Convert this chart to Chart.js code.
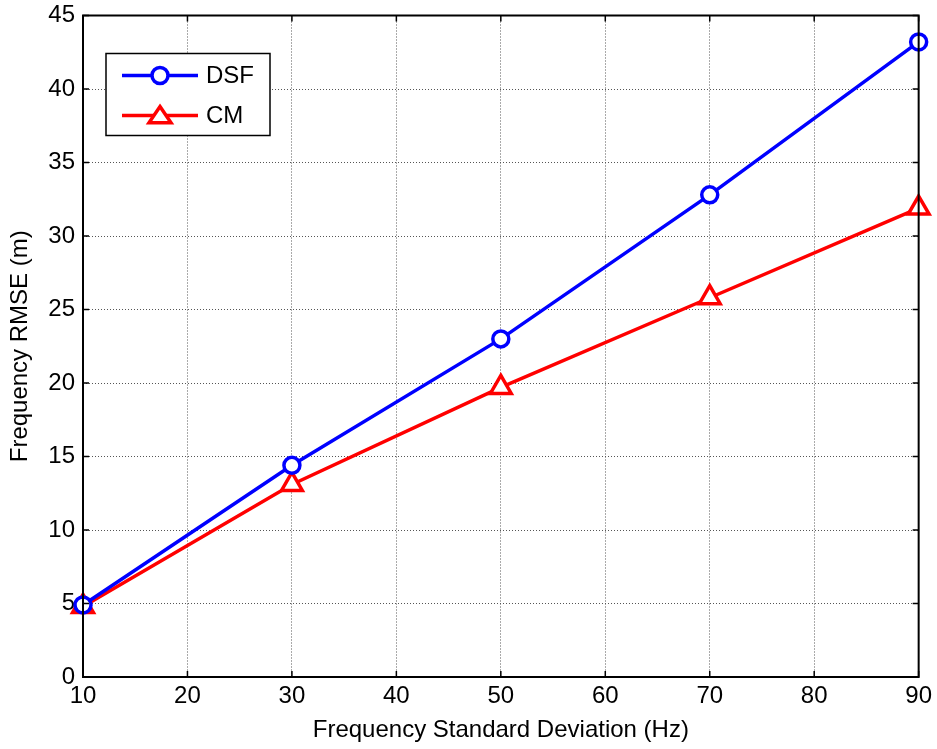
<!DOCTYPE html>
<html>
<head>
<meta charset="utf-8">
<script src="https://cdn.jsdelivr.net/npm/chart.js@4/dist/chart.umd.min.js"></script>
<style>
  html, body { margin: 0; padding: 0; background: #fff; }
  #wrap { width: 937px; height: 749px; }
</style>
</head>
<body>
<div id="wrap"><canvas id="chart1" width="937" height="749"></canvas></div>
<script>
var freqStd = [10, 30, 50, 70, 90]
var dsfRmse = [4.9, 14.4, 23.0, 32.8, 43.2]
var cmRmse = [4.8, 13.1, 19.7, 25.8, 31.9]
var xTicks = [10, 20, 30, 40, 50, 60, 70, 80, 90]
var yTicks = [0, 5, 10, 15, 20, 25, 30, 35, 40, 45]

var font = "'Liberation Sans', Arial, sans-serif"

function toPoints (xs, ys) {
  return xs.map(function (x, i) { return { x: x, y: ys[i] } })
}

function drawTri (c, mx, yy, r) {
  c.beginPath()
  c.moveTo(mx, yy - r)
  c.lineTo(mx + r * 1.1, yy + r * 0.62)
  c.lineTo(mx - r * 1.1, yy + r * 0.62)
  c.closePath()
}

// MATLAB-like frame, inward ticks and legend box
var matlabFrame = {
  id: 'matlabFrame',
  afterDraw: function (chart) {
    var c = chart.ctx
    var a = chart.chartArea
    var sx = chart.scales.x
    var sy = chart.scales.y
    var t = 6
    c.save()
    c.strokeStyle = '#000'
    c.lineWidth = 1.5
    xTicks.forEach(function (v) {
      var px = sx.getPixelForValue(v)
      c.beginPath()
      c.moveTo(px, a.bottom); c.lineTo(px, a.bottom - t)
      c.moveTo(px, a.top); c.lineTo(px, a.top + t)
      c.stroke()
    })
    yTicks.forEach(function (v) {
      var py = sy.getPixelForValue(v)
      c.beginPath()
      c.moveTo(a.left, py); c.lineTo(a.left + t, py)
      c.moveTo(a.right, py); c.lineTo(a.right - t, py)
      c.stroke()
    })
    c.lineWidth = 2
    c.strokeRect(a.left, a.top, a.right - a.left, a.bottom - a.top)

    // legend
    var lx = a.left + 23, ly = a.top + 38, lw = 164, lh = 82
    c.fillStyle = '#fff'
    c.fillRect(lx, ly, lw, lh)
    c.lineWidth = 1.5
    c.strokeRect(lx, ly, lw, lh)
    chart.data.datasets.forEach(function (ds, i) {
      var yy = ly + 22 + i * 40
      c.strokeStyle = ds.borderColor
      c.lineWidth = ds.borderWidth
      c.beginPath()
      c.moveTo(lx + 16, yy); c.lineTo(lx + 92, yy)
      c.stroke()
      var mx = lx + 54
      c.fillStyle = '#fff'
      c.lineWidth = ds.pointBorderWidth
      if (ds.pointStyle === 'triangle') {
        drawTri(c, mx, yy + 1, 10)
      } else {
        c.beginPath()
        c.arc(mx, yy, ds.pointRadius, 0, Math.PI * 2)
      }
      c.fill()
      c.stroke()
      c.fillStyle = '#000'
      c.font = '24px ' + font
      c.textBaseline = 'middle'
      c.textAlign = 'left'
      c.fillText(ds.label, lx + 100, yy + 1)
    })
    c.restore()
  }
}

var ctx1 = document.getElementById('chart1').getContext('2d')
var myChart1 = new Chart(ctx1, {
  type: 'line',
  data: {
    datasets: [
      {
        label: 'DSF',
        data: toPoints(freqStd, dsfRmse),
        borderColor: '#0000ff',
        backgroundColor: '#ffffff',
        borderWidth: 3.5,
        pointStyle: 'circle',
        pointRadius: 8,
        pointBorderWidth: 3.5,
        pointBackgroundColor: '#ffffff'
      },
      {
        label: 'CM',
        data: toPoints(freqStd, cmRmse),
        borderColor: '#ff0000',
        backgroundColor: '#ffffff',
        borderWidth: 3.5,
        pointStyle: 'triangle',
        pointRadius: 12,
        pointBorderWidth: 3.5,
        pointBackgroundColor: '#ffffff'
      }
    ]
  },
  options: {
    responsive: false,
    animation: false,
    clip: false,
    layout: { padding: { left: 0, right: 17, top: 15, bottom: 0 } },
    plugins: {
      legend: { display: false },
      tooltip: { enabled: false }
    },
    scales: {
      x: {
        type: 'linear',
        min: 10,
        max: 90,
        afterBuildTicks: function (s) { s.ticks = xTicks.map(function (v) { return { value: v } }) },
        afterFit: function (s) { s.height = 72 },
        ticks: { color: '#000', font: { family: font, size: 24 }, padding: 5, maxRotation: 0 },
        grid: { color: '#555', drawTicks: false, lineWidth: 1 },
        border: { display: false, dash: [1, 2] },
        title: { display: true, text: 'Frequency Standard Deviation (Hz)', color: '#000', font: { family: font, size: 24 }, padding: { top: 8 } }
      },
      y: {
        min: 0,
        max: 45,
        afterBuildTicks: function (s) { s.ticks = yTicks.map(function (v) { return { value: v } }) },
        afterFit: function (s) { s.width = 83; s.paddingTop = 0; s.paddingBottom = 0 },
        ticks: { color: '#000', font: { family: font, size: 24 }, padding: 8 },
        grid: { color: '#555', drawTicks: false, lineWidth: 1 },
        border: { display: false, dash: [1, 2] },
        title: { display: true, text: 'Frequency RMSE (m)', color: '#000', font: { family: font, size: 24 }, padding: { top: 6, bottom: 0 } }
      }
    }
  },
  plugins: [matlabFrame]
})
</script>
</body>
</html>
